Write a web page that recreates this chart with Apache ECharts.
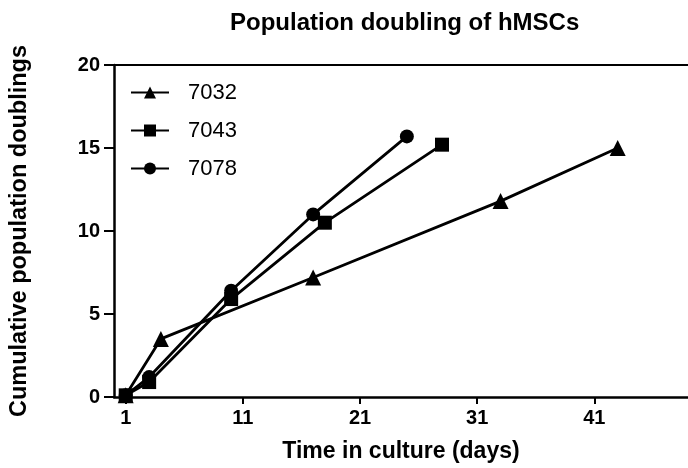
<!DOCTYPE html>
<html>
<head>
<meta charset="utf-8">
<script src="https://cdn.jsdelivr.net/npm/echarts@6/dist/echarts.min.js"></script>
<style>
html,body{margin:0;padding:0;background:#fff;}
#chart{width:688px;height:468px;}
</style>
</head>
<body>
<div id="chart"></div>
<script>
var seriesNames = ['7032', '7043', '7078'];
var x7032 = [1, 4, 17, 33, 43];
var y7032 = [0.1, 3.5, 7.2, 11.8, 15.0];
var x7043 = [1, 3, 10, 18, 28];
var y7043 = [0.1, 0.9, 5.9, 10.5, 15.2];
var x7078 = [1, 3, 10, 17, 25];
var y7078 = [0.1, 1.2, 6.4, 11.0, 15.7];
var xTicks = [1, 11, 21, 31, 41];
var yTicks = [0, 5, 10, 15, 20];
var symbols = ['triangle', 'rect', 'circle'];
var symbolSizes = [16, 14, 14];

function pairs(xs, ys) { return xs.map(function (x, i) { return [x, ys[i]]; }); }
var dataSets = [pairs(x7032, y7032), pairs(x7043, y7043), pairs(x7078, y7078)];

var FONT = '"Liberation Sans", Arial, Helvetica, sans-serif';
var chart = echarts.init(document.getElementById('chart'), null, {renderer: 'canvas'});
var option = {
  animation: false,
  backgroundColor: '#ffffff',
  title: {
    text: 'Population doubling of hMSCs',
    left: 230, top: 11, padding: 0,
    textStyle: {fontFamily: FONT, fontWeight: 'bold', fontSize: 24, color: '#000'}
  },
  legend: {
    orient: 'vertical',
    left: 130, top: 81, padding: 0,
    itemWidth: 38, itemHeight: 15, itemGap: 15,
    data: seriesNames,
    textStyle: {fontFamily: FONT, fontSize: 22, color: '#000', padding: [0, 0, 0, 14], lineHeight: 23}
  },
  grid: {left: 114, right: 0, top: 65, bottom: 69, containLabel: false},
  xAxis: [{
    type: 'value', min: 0, max: 49,
    name: 'Time in culture (days)', nameLocation: 'middle', nameGap: 43,
    nameTextStyle: {fontFamily: FONT, fontWeight: 'bold', fontSize: 23, color: '#000'},
    axisLine: {lineStyle: {color: '#000', width: 2.5}},
    axisTick: {show: true, length: 7, lineStyle: {color: '#000', width: 2}, customValues: xTicks},
    axisLabel: {fontFamily: FONT, fontWeight: 'bold', fontSize: 20, color: '#000', margin: 11, customValues: xTicks},
    splitLine: {show: false}
  }, {
    type: 'value', min: 0, max: 49, position: 'top',
    axisLine: {show: true, onZero: false, lineStyle: {color: '#000', width: 2}},
    axisTick: {show: false}, axisLabel: {show: false}, splitLine: {show: false}
  }],
  yAxis: {
    type: 'value', min: 0, max: 20, interval: 5,
    name: 'Cumulative population doublings', nameLocation: 'middle', nameGap: 82,
    nameTextStyle: {fontFamily: FONT, fontWeight: 'bold', fontSize: 23.5, color: '#000'},
    axisLine: {show: true, lineStyle: {color: '#000', width: 2.5}},
    axisTick: {show: true, length: 10, lineStyle: {color: '#000', width: 2}},
    axisLabel: {fontFamily: FONT, fontWeight: 'bold', fontSize: 20, color: '#000', margin: 14},
    splitLine: {show: false}
  },
  series: seriesNames.map(function (n, i) {
    return {
      name: n, type: 'line', data: dataSets[i],
      symbol: symbols[i], symbolSize: symbolSizes[i], showSymbol: true,
      lineStyle: {color: '#000', width: 2.8},
      itemStyle: {color: '#000', borderWidth: 0},
      z: i === 1 ? 4 : 3
    };
  })
};
chart.setOption(option);
</script>
</body>
</html>
